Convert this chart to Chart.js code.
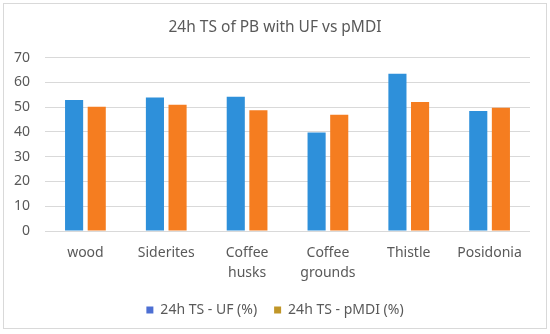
<!DOCTYPE html>
<html>
<head>
    <title>24h TS of PB with UF vs pMDI</title>
    <script src="https://cdn.jsdelivr.net/npm/chart.js"></script>
    <style>
        body { margin: 0; background: #fff; }
        #frame { position: absolute; left: 3px; top: 3px; width: 542px; height: 324px; border: 1px solid #d9d9d9; }
        #wrap { position: absolute; left: 0; top: 0; width: 550px; height: 334px; }
    </style>
</head>
<body>
    <div id="frame"></div>
    <div id="wrap">
        <canvas id="tsChart"></canvas>
    </div>
    <script>
        // data
        const categories = ['wood', 'Siderites', ['Coffee', 'husks'], ['Coffee', 'grounds'], 'Thistle', 'Posidonia'];
        const ufValues = [52.9, 53.9, 54.2, 39.8, 63.5, 48.4];
        const pmdiValues = [50.2, 51.0, 48.7, 46.9, 52.1, 49.8];
        const seriesNames = ['24h TS - UF (%)', '24h TS - pMDI (%)'];
        const yTicks = [0, 10, 20, 30, 40, 50, 60, 70];

        const barColors = ['#2e90da', '#f57d20'];
        const swatchColors = ['#4d6fd3', '#c09628'];
        const textColor = '#595959';
        const fontFamily = "'Noto Sans', sans-serif";

        const ctx = document.getElementById('tsChart').getContext('2d');
        new Chart(ctx, {
            type: 'bar',
            data: {
                labels: categories,
                datasets: [{
                    label: seriesNames[0],
                    data: ufValues,
                    backgroundColor: barColors[0]
                }, {
                    label: seriesNames[1],
                    data: pmdiValues,
                    backgroundColor: barColors[1]
                }]
            },
            options: {
                responsive: true,
                maintainAspectRatio: false,
                animation: false,
                datasets: {
                    bar: { categoryPercentage: 0.56, barPercentage: 0.8 }
                },
                layout: { padding: { left: 0, right: 0, top: 0, bottom: 7 } },
                plugins: {
                    title: {
                        display: true,
                        text: '24h TS of PB with UF vs pMDI',
                        color: textColor,
                        font: { family: fontFamily, size: 15.5, weight: 'normal' },
                        padding: { top: 18, bottom: 21 }
                    },
                    legend: {
                        position: 'bottom',
                        labels: {
                            color: textColor,
                            font: { family: fontFamily, size: 14 },
                            boxWidth: 7,
                            boxHeight: 7,
                            padding: 17,
                            generateLabels: (chart) => {
                                const items = Chart.defaults.plugins.legend.labels.generateLabels(chart);
                                items.forEach((it, i) => {
                                    it.fillStyle = swatchColors[i];
                                    it.strokeStyle = swatchColors[i];
                                    it.lineWidth = 0;
                                });
                                return items;
                            }
                        }
                    },
                    tooltip: { enabled: false }
                },
                scales: {
                    x: {
                        grid: { display: false },
                        border: { display: false },
                        ticks: {
                            color: textColor,
                            font: { family: fontFamily, size: 14, lineHeight: 1.45 },
                            maxRotation: 0,
                            padding: 4
                        },
                        afterFit: (scale) => { scale.height = 55; }
                    },
                    y: {
                        min: 0,
                        max: 70,
                        afterBuildTicks: (scale) => { scale.ticks = yTicks.map(v => ({ value: v })); },
                        grid: { color: '#d9d9d9', drawTicks: false },
                        border: { display: false },
                        ticks: {
                            color: textColor,
                            font: { family: fontFamily, size: 14 },
                            padding: 15
                        },
                        afterFit: (scale) => { scale.width = 45; }
                    },
                    // empty right-hand axis, only keeps the plot clear of the right edge
                    yRight: {
                        position: 'right',
                        grid: { display: false },
                        border: { display: false },
                        ticks: { display: false },
                        afterFit: (scale) => { scale.width = 20; }
                    }
                }
            }
        });
    </script>
</body>
</html>
